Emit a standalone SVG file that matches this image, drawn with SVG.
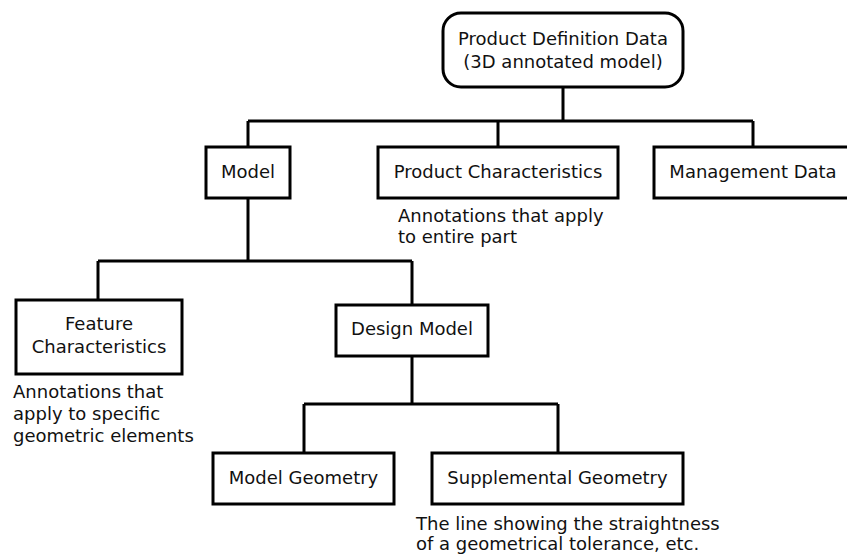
<svg xmlns="http://www.w3.org/2000/svg" width="847" height="555" viewBox="0 0 847 555">
<style>
.box{fill:#fff;stroke:#000;stroke-width:3}
.lbl{font-family:"DejaVu Sans",sans-serif;font-size:18px;fill:#111;text-anchor:middle}
.note{font-family:"DejaVu Sans",sans-serif;font-size:18px;fill:#111;text-anchor:start}
.conn{fill:none;stroke:#000;stroke-width:3}
</style>
<rect width="847" height="555" fill="#fff"/>
<g id="connectors" class="conn">
<path d="M563 87V121M248 121H753M248 121V147M498 121V147M753 121V147"/>
<path d="M248 198V261M98 261H412M98 261V300M412 261V305"/>
<path d="M412 356V404M304 404H558M304 404V453M558 404V453"/>
</g>
<g id="pdd">
<rect class="box" x="443" y="13" width="240" height="74" rx="18"/>
<text class="lbl" x="563" y="45">Product Definition Data</text>
<text class="lbl" x="563" y="68">(3D annotated model)</text>
</g>
<g id="model">
<rect class="box" x="206" y="147" width="84" height="51"/>
<text class="lbl" x="248" y="178">Model</text>
</g>
<g id="product-characteristics">
<rect class="box" x="378" y="147" width="240" height="51"/>
<text class="lbl" x="498" y="178">Product Characteristics</text>
<text class="note" x="398" y="222">Annotations that apply</text>
<text class="note" x="398" y="243">to entire part</text>
</g>
<g id="management-data">
<rect class="box" x="654" y="147" width="200" height="51"/>
<text class="lbl" x="753" y="178">Management Data</text>
</g>
<g id="feature-characteristics">
<rect class="box" x="16" y="300" width="166" height="74"/>
<text class="lbl" x="99" y="330">Feature</text>
<text class="lbl" x="99" y="353">Characteristics</text>
<text class="note" x="13" y="398">Annotations that</text>
<text class="note" x="13" y="420">apply to specific</text>
<text class="note" x="13" y="442">geometric elements</text>
</g>
<g id="design-model">
<rect class="box" x="336" y="305" width="152" height="51"/>
<text class="lbl" x="412" y="335">Design Model</text>
</g>
<g id="model-geometry">
<rect class="box" x="213" y="453" width="181" height="51"/>
<text class="lbl" x="303.5" y="484">Model Geometry</text>
</g>
<g id="supplemental-geometry">
<rect class="box" x="432" y="453" width="251" height="51"/>
<text class="lbl" x="557.5" y="484">Supplemental Geometry</text>
<text class="note" x="416" y="530">The line showing the straightness</text>
<text class="note" x="416" y="550">of a geometrical tolerance, etc.</text>
</g>
</svg>
